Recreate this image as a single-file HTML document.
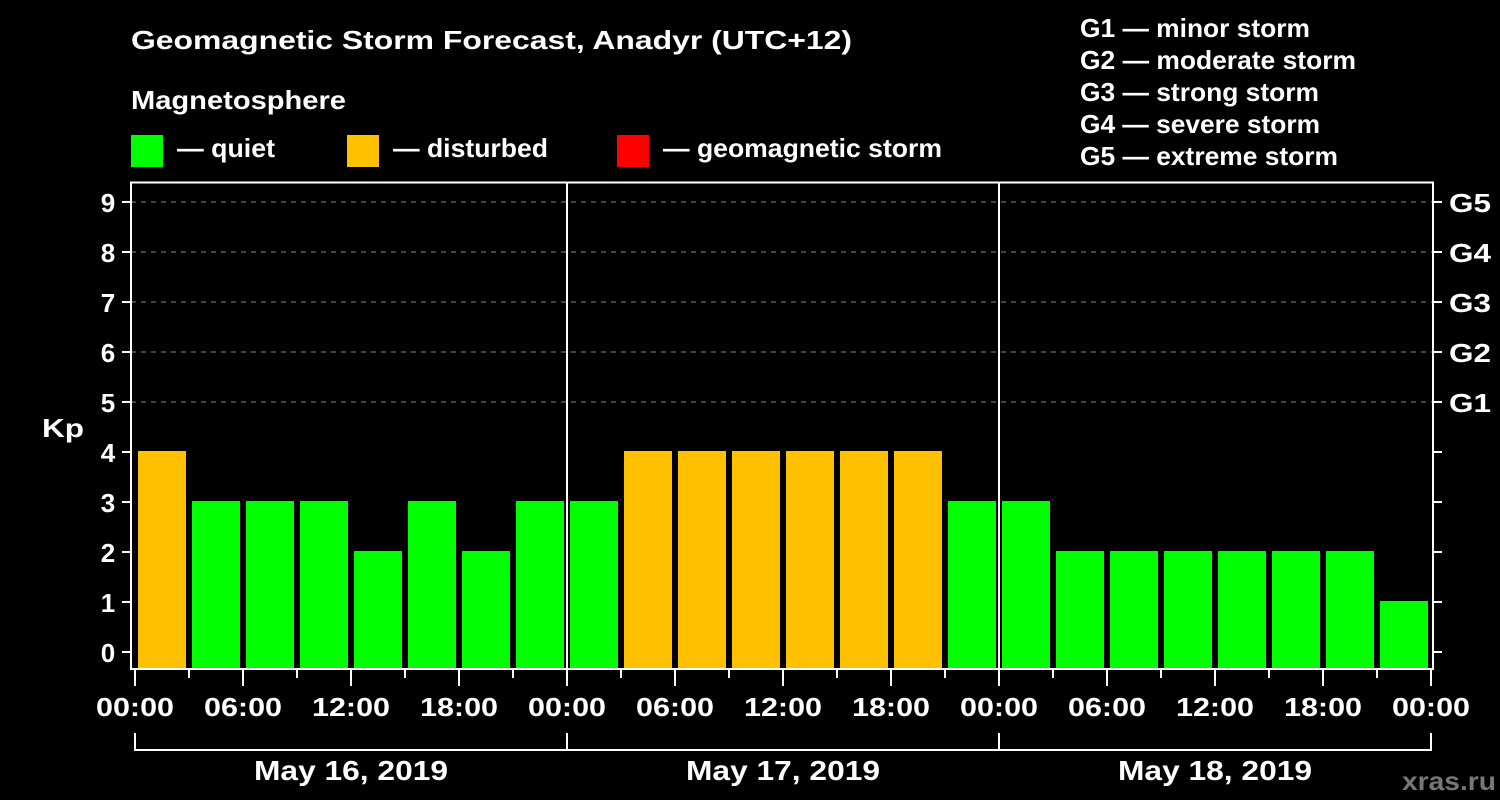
<!DOCTYPE html>
<html><head><meta charset="utf-8"><style>
html,body{margin:0;padding:0;background:#000;width:1500px;height:800px;overflow:hidden}
svg text{font-family:"Liberation Sans",Arial,sans-serif;font-weight:bold;fill:#fff}
</style></head><body>
<svg id="chart" width="1500" height="800" xmlns="http://www.w3.org/2000/svg">
<text x="131" y="49" font-size="26" textLength="721" lengthAdjust="spacingAndGlyphs">Geomagnetic Storm Forecast, Anadyr (UTC+12)</text>
<text x="131" y="109" font-size="26" textLength="215" lengthAdjust="spacingAndGlyphs">Magnetosphere</text>
<g><rect x="131" y="135" width="32" height="32" fill="#00ff00"/><text x="177" y="157" font-size="26" textLength="98" lengthAdjust="spacingAndGlyphs">— quiet</text></g>
<g><rect x="347" y="135" width="32" height="32" fill="#ffc000"/><text x="393" y="157" font-size="26" textLength="155" lengthAdjust="spacingAndGlyphs">— disturbed</text></g>
<g><rect x="617" y="135" width="32" height="32" fill="#ff0000"/><text x="663" y="157" font-size="26" textLength="279" lengthAdjust="spacingAndGlyphs">— geomagnetic storm</text></g>
<g font-size="26">
<text x="1080" y="37" textLength="230" lengthAdjust="spacingAndGlyphs">G1 — minor storm</text>
<text x="1080" y="69" textLength="276" lengthAdjust="spacingAndGlyphs">G2 — moderate storm</text>
<text x="1080" y="101" textLength="239" lengthAdjust="spacingAndGlyphs">G3 — strong storm</text>
<text x="1080" y="133" textLength="240" lengthAdjust="spacingAndGlyphs">G4 — severe storm</text>
<text x="1080" y="165" textLength="258" lengthAdjust="spacingAndGlyphs">G5 — extreme storm</text>
</g>
<text x="42" y="437" font-size="26" textLength="42" lengthAdjust="spacingAndGlyphs">Kp</text>
<g id="grid"></g><g id="bars"></g><g id="axes"></g>
<text x="1402" y="790" font-size="26" textLength="94" lengthAdjust="spacingAndGlyphs" style="fill:#777">xras.ru</text>
</svg>
<script>
const kpValues=[4,3,3,3,2,3,2,3, 3,4,4,4,4,4,4,3, 3,2,2,2,2,2,2,1];
const hourLabels=["00:00","06:00","12:00","18:00","00:00","06:00","12:00","18:00","00:00","06:00","12:00","18:00","00:00"];
const dayLabels=["May 16, 2019","May 17, 2019","May 18, 2019"];
const gLabels=["G1","G2","G3","G4","G5"];
(function(){
const NS="http://www.w3.org/2000/svg";
const x0=135,x1=1431,hours=72,pb=669,ptop=182.5,left=131,right=1433;
const xs=h=>x0+(x1-x0)*h/hours;
const ys=v=>652-50*v;
function mk(t,a,p){const e=document.createElementNS(NS,t);for(const k in a)e.setAttribute(k,a[k]);p.appendChild(e);return e;}
const grid=document.getElementById('grid'),bars=document.getElementById('bars'),axes=document.getElementById('axes');
for(let v=5;v<=9;v++){const l=mk('line',{x1:left,x2:right,y1:ys(v),y2:ys(v),stroke:'#888','stroke-dasharray':'5,5','stroke-width':1},grid);

}
kpValues.forEach((v,i)=>{const c=v>=5?'#ff0000':(v>=4?'#ffc000':'#00ff00');
const a=xs(i*3)+3,b=xs(i*3+3)-3;
const r=mk('rect',{x:a,y:ys(v)-1,width:b-a,height:pb-ys(v)+1,fill:c},bars);

});
mk('rect',{x:left,y:ptop,width:right-left,height:pb-ptop,fill:'none',stroke:'#fff','stroke-width':2},axes);
[1,2].forEach(d=>{const l=mk('line',{x1:xs(d*24),x2:xs(d*24),y1:ptop,y2:pb,stroke:'#fff','stroke-width':2},axes);

});
for(let v=0;v<=9;v++){mk('line',{x1:122,x2:left,y1:ys(v),y2:ys(v),stroke:'#fff','stroke-width':2},axes);
mk('line',{x1:right,x2:1442,y1:ys(v),y2:ys(v),stroke:'#fff','stroke-width':2},axes);
const t=mk('text',{x:108,y:ys(v)+10,'font-size':26,'text-anchor':'middle'},axes);t.textContent=v;


if(v>=5){const g=mk('text',{x:1449,y:ys(v)+10,'font-size':26,textLength:42,lengthAdjust:'spacingAndGlyphs'},axes);g.textContent=gLabels[v-5];

}}
for(let h=0;h<=72;h+=3){const major=h%6===0;mk('line',{x1:xs(h),x2:xs(h),y1:pb,y2:major?686:678,stroke:'#fff','stroke-width':2},axes);}
hourLabels.forEach((s,i)=>{const t=mk('text',{x:xs(i*6),y:716,'font-size':26,'text-anchor':'middle',textLength:78,lengthAdjust:'spacingAndGlyphs'},axes);t.textContent=s;

});
mk('path',{d:`M${xs(0)},733V750H${xs(72)}V733`,stroke:'#fff','stroke-width':2,fill:'none'},axes);
[1,2].forEach(d=>mk('line',{x1:xs(d*24),x2:xs(d*24),y1:733,y2:750,stroke:'#fff','stroke-width':2},axes));
dayLabels.forEach((s,i)=>{const t=mk('text',{x:xs(i*24+12),y:780,'font-size':28,'text-anchor':'middle',textLength:194,lengthAdjust:'spacingAndGlyphs'},axes);t.textContent=s;

});
})();
</script>
</body></html>
